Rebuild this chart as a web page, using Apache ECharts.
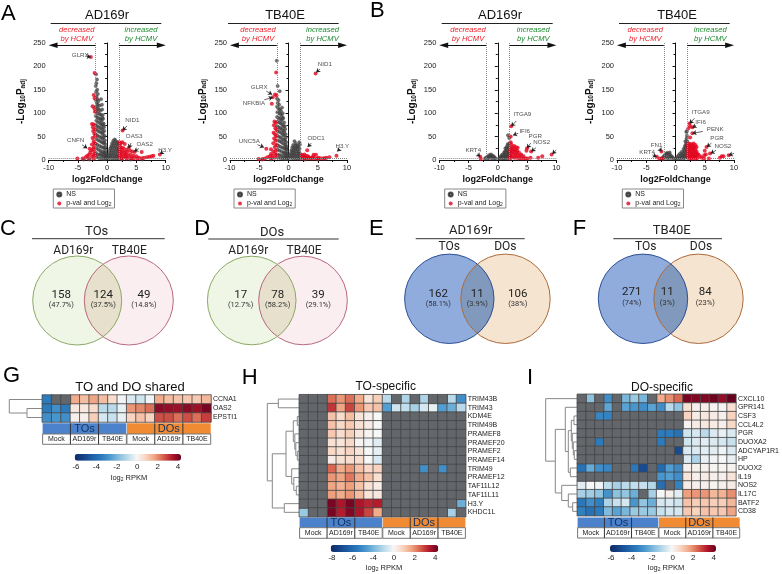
<!DOCTYPE html>
<html>
<head>
<meta charset="utf-8">
<title>HCMV volcano, venn and heatmap panels</title>
<style>
  html, body { margin: 0; padding: 0; background: #fff; }
  #chart { width: 782px; height: 574px; }
</style>
<script src="https://cdn.jsdelivr.net/npm/echarts@6/dist/echarts.min.js"></script>
</head>
<body>
<div id="chart"></div>
<script>
// ---- volcano points ----
var a1Gray = [[-1.9,183],[-1.75,172],[-1.85,164],[-1.95,158],[-1.7,150],[-1.9,146],[-1.6,141],[-1.85,136],[-1.7,131],[-1.95,128],[-1.5,126],[-1.8,122],[-1.6,118],[-1.35,116],[-1.95,114],[-1.7,110],[-1.45,108],[-1.2,105],[-1.9,104],[-1.6,100],[-1.3,98],[-1.05,96],[-1.95,94],[-1.7,91],[-1.4,89],[-1.15,87],[-.95,84],[-1.85,84],[-1.55,81],[-1.25,79],[-1,76],[-1.95,75],[-1.7,72],[-1.4,70],[-1.1,68],[-.85,66],[-1.85,65],[-1.55,62],[-1.25,60],[-.95,58],[-.75,55],[-1.95,55],[-1.65,52],[-1.35,50],[-1.05,48],[-.8,46],[-1.85,45],[-1.5,42],[-1.2,40],[-.9,38],[-.65,36],[-1.95,35],[-1.65,32],[-1.3,30],[-1,28],[-.7,27],[-.5,25],[-1.85,25],[-1.5,22],[-1.15,20],[-.8,18],[-.5,16],[-1.95,15],[-1.6,12],[-1.25,11],[-.9,9],[-.55,8],[-.3,7],[-1.8,6],[-1.4,4],[-1,3],[-.6,2],[-.3,2],[-1.05,130],[-.9,118],[-.85,108],[-.75,96],[-.7,88],[-.6,78],[-.55,70],[-.7,74],[-.85,90],[-.5,62],[-.45,52],[-.6,48],[-.4,42],[-.35,34],[-.3,28],[-.55,38],[-.3,20],[-.25,14],[-.2,10],[-.1,6],[-.1,3],[-.35,12],[-.7,12],[-1.1,14],[-.75,60],[-.8,76],[1.3,44],[1.05,41],[1.5,40],[1.8,38],[.85,36],[1.2,36],[1.6,35],[1.95,33],[.7,30],[1.05,31],[1.4,30],[1.75,29],[.55,25],[.9,26],[1.25,25],[1.6,24],[1.95,23],[.45,20],[.8,20],[1.15,19],[1.5,19],[1.85,18],[.35,14],[.7,14],[1.05,14],[1.4,13],[1.75,13],[.3,9],[.6,9],[.95,8],[1.3,8],[1.65,8],[1.95,8],[.25,4],[.55,4],[.9,3],[1.25,3],[1.6,3],[1.9,3],[-4,1],[-3,1],[2.5,1],[4,1],[6,1]]
var a1Red = [[-2.8,220],[-2.15,186],[-2.3,139],[-2.15,132],[-2.5,115],[-2.2,110],[-2.1,103],[-2.6,77],[-2.3,76],[-2.45,70],[-2.15,66],[-2.4,62],[-2.2,56],[-2.1,50],[-2.5,47],[-2.3,40],[-2.15,36],[-2.6,33],[-2.25,28],[-2.4,24],[-3,24],[-2.7,21],[-2.2,18],[-2.9,16],[-2.4,12],[-3.1,11],[-2.1,10],[-3.4,9],[-2.6,7],[-3.7,6],[-4.2,3],[-5.1,3],[-3.2,3],[-2.3,3],[2.63,63],[2.1,38],[2.3,36],[2.2,30],[2.6,38],[3,34],[2.2,24],[2.5,26],[2.8,25],[3.3,22],[3.7,26],[2.1,18],[2.4,17],[2.7,19],[3,16],[3.4,17],[3.9,20],[4.3,18],[4.7,17],[5.9,17],[2.2,11],[2.5,12],[2.9,10],[3.2,12],[3.6,10],[4,11],[4.5,9],[5,8],[2.1,6],[2.6,5],[3.1,6],[3.5,5],[4.1,5],[4.6,4],[5.4,5],[5.9,4],[6.3,5],[6.8,6],[7.2,7],[7.6,8],[7.9,9],[9,12],[2.4,3],[3.3,3],[4.2,3],[5.2,3]]
var a2Gray = [[-2,212],[-1.85,158],[-1.5,147],[-1.95,131],[-1.7,128],[-1.85,122],[-1.6,118],[-1.95,114],[-1.75,110],[-1.5,108],[-1.3,105],[-1.9,102],[-1.6,100],[-1.35,98],[-1.15,94],[-1.95,92],[-1.7,90],[-1.45,88],[-1.2,85],[-1.9,82],[-1.6,80],[-1.3,78],[-1.05,75],[-1.95,72],[-1.7,70],[-1.4,68],[-1.15,66],[-.9,63],[-1.85,62],[-1.55,60],[-1.25,58],[-1,55],[-.8,52],[-1.95,52],[-1.65,50],[-1.35,48],[-1.05,45],[-.75,43],[-1.85,42],[-1.5,40],[-1.2,38],[-.9,35],[-.6,33],[-1.95,32],[-1.65,30],[-1.3,28],[-1,26],[-.7,25],[-.45,22],[-1.85,22],[-1.5,20],[-1.15,18],[-.8,16],[-.45,14],[-1.95,12],[-1.6,11],[-1.25,10],[-.9,8],[-.55,7],[-.25,6],[-1.8,5],[-1.4,4],[-1,3],[-.6,2],[-.2,2],[-1.1,112],[-1,100],[-.9,90],[-.75,80],[-.65,72],[-.55,66],[-.7,60],[-.5,55],[-.45,48],[-.6,42],[-.4,38],[-.35,30],[-.3,24],[-.55,28],[-.25,18],[-.2,12],[-.15,8],[-.1,4],[-.35,10],[-.85,72],[-1,88],[-.7,14],[1.85,38],[1.03,40],[1.25,35],[1.5,31],[.8,32],[1.95,33],[1.1,30],[1.4,27],[1.7,29],[.65,27],[.95,25],[1.25,24],[1.55,23],[1.9,24],[.5,21],[.8,20],[1.1,19],[1.45,18],[1.8,18],[.4,15],[.7,15],[1,14],[1.35,13],[1.7,13],[1.95,13],[.3,10],[.6,10],[.9,9],[1.2,8],[1.55,8],[1.9,8],[.25,5],[.55,4],[.85,4],[1.2,3],[1.55,3],[1.9,3],[-4.5,1],[-3,1],[2.8,1],[5,1]]
var a2Red = [[-2.1,187],[-2.3,140],[-2.05,138],[-2.7,134],[-2.85,120],[-2.4,82],[-2.2,79],[-2.5,74],[-2.25,68],[-2.05,64],[-2.55,58],[-2.3,55],[-2.1,50],[-2.45,46],[-2.2,41],[-2.6,36],[-2.05,32],[-2.35,28],[-3.8,24],[-3,23],[-2.15,21],[-2.6,18],[-2.3,14],[-3,13],[-2.05,10],[-2.7,9],[-3.2,8],[-3.6,6],[-2.35,5],[-2.9,4],[-4,3],[-5.1,2],[-4.4,2],[4.63,185],[3.2,21],[2.1,12],[2.4,10],[2.7,12],[3,9],[3.3,8],[2.2,7],[2.6,6],[3,5],[3.5,6],[4.3,11],[4.7,11],[4.2,7],[3.9,5],[4.5,4],[5.1,5],[5.5,4],[6,4],[6.5,5],[7,6],[5,3],[8.2,9],[2.1,3],[2.7,3],[3.4,3],[4,3],[6.2,3]]
var b1Gray = [[-2.2,3],[-2,5],[-1.8,7],[-1.6,5],[-1.5,10],[-1.3,8],[-1.2,12],[-1,10],[-.9,6],[-.7,8],[-.5,5],[-.4,3],[-1.7,3],[-1.2,4],[-.8,3],[.2,3],[.4,6],[.5,3],[.6,9],[.8,6],[.8,12],[1,3],[1,9],[1.1,16],[1.2,6],[1.3,12],[1.4,20],[1.4,3],[1.5,9],[1.5,26],[1.6,16],[1.7,6],[1.7,34],[1.8,22],[1.8,12],[1.9,3],[1.9,29],[2,36],[2,18],[2,9],[1.75,53],[1.95,47],[1.6,30],[1.3,25],[1.2,18],[1.6,22],[1.9,14],[1.7,12],[1.4,15],[.9,4],[1.5,5]]
var b1Red = [[2.3,72],[2.2,50],[2.2,38],[2.3,33],[2.5,28],[2.8,30],[3.1,27],[3.4,26],[2.2,25],[2.4,22],[2.7,23],[3,21],[3.3,20],[2.1,19],[2.5,17],[2.8,16],[3.2,15],[3.6,16],[4,12],[2.2,13],[2.6,11],[3,10],[3.4,10],[3.8,9],[2.1,8],[2.4,6],[2.8,5],[3.2,5],[3.6,4],[4,4],[4.4,8],[4.8,3],[5,25],[4.9,20],[5.7,18],[5.6,5],[4.4,4],[6.9,5],[7.6,8],[9.2,12],[-3,7],[-2.9,2],[2.1,3],[5.1,3]]
var b2Gray = [[-2.5,3],[-2.2,5],[-2,8],[-1.8,11],[-1.6,14],[-1.4,15],[-1.2,13],[-1,16],[-.9,11],[-.7,8],[-.5,6],[-.3,3],[-1.9,4],[-1.5,7],[-1.1,7],[-.8,4],[-1.3,3],[-2.1,2],[.1,3],[.3,6],[.5,3],[.5,10],[.7,6],[.8,14],[.9,3],[1,10],[1.1,18],[1.2,6],[1.3,13],[1.4,24],[1.4,3],[1.5,9],[1.6,30],[1.6,17],[1.7,5],[1.8,35],[1.8,23],[1.9,12],[1.9,46],[2,40],[2,28],[2,18],[2,6],[1.7,40],[1.85,60],[1.95,62],[1.5,20],[1.2,10],[1.9,32],[1.7,28],[1.95,52],[1.6,12]]
var b2Red = [[2.4,78],[2.9,70],[2.5,72],[2.2,68],[2.9,57],[2.5,48],[2.2,35],[2.5,34],[2.8,33],[3.1,35],[3.4,32],[2.1,30],[2.4,29],[2.7,28],[3,29],[3.3,27],[3.6,28],[2.2,25],[2.5,24],[2.8,23],[3.1,24],[3.4,22],[2.1,20],[2.4,19],[2.7,18],[3,19],[3.3,17],[3.6,18],[2.2,15],[2.5,14],[2.8,13],[3.1,14],[3.4,12],[3.7,13],[2.1,10],[2.4,9],[2.7,8],[3,9],[3.3,7],[3.6,8],[2.2,5],[2.5,4],[2.8,3],[3.1,5],[3.4,3],[3.7,4],[3.9,12],[4.2,8],[4.5,5],[4.9,3],[5.3,28],[5,20],[4.9,10],[5.2,12],[5.9,14],[5.7,3],[7.6,5],[7.9,8],[8.2,8],[9.1,10],[-2.4,18],[-3.2,7],[-2.8,3],[-2.2,3]]

// gene callouts: name and the point its arrow ends on, then where the name sits
var a1Genes = ['GLRX', 'CNFN', 'NID1', 'OAS3', 'OAS2', 'H3.Y']
var a1Marked = [[-2.8,220],[-3.4,25],[2.63,63],[3.66,25],[4.63,18],[9,13]]
var a1TextAt = [[-4.6,224],[-5.4,42],[4.3,85],[4.6,50],[6.4,33],[9.9,20]]
var a2Genes = ['NID1', 'GLRX', 'NFKBIA', 'UNC5A', 'ODC1', 'H3.Y']
var a2Marked = [[4.74,187],[-2.8,140],[-2.7,134],[-4.2,27],[3.26,28],[8.34,18]]
var a2TextAt = [[6.2,204],[-5,156],[-5.9,122],[-6.7,40],[4.7,46],[9.2,30]]
var b1Genes = ['ITGA9', 'IFI6', 'PGR', 'NOS2', 'CSF3', 'KRT4']
var b1Marked = [[2.3,72],[2.6,53],[5,25],[5.75,18],[9.3,13],[-3,7]]
var b1TextAt = [[4.2,97],[4.6,62],[6.4,50],[7.5,37],[10.8,31],[-4.2,21]]
var b2Genes = ['ITGA9', 'IFI6', 'PENK', 'PGR', 'NOS2', 'CSF3', 'FN1', 'KRT4']
var b2Marked = [[2.4,78],[2.9,69],[2.9,57],[5.35,28],[6,14],[9.1,10],[-2.35,18],[-3.2,7]]
var b2TextAt = [[4.3,103],[4.3,80],[6.8,66],[7.1,46],[8.1,29],[11.1,19],[-3.25,32],[-4.85,16]]

// ---- venn counts ----
var vennCounts = {
  C: ['158', '124', '49'],
  D: ['17', '78', '39'],
  E: ['162', '11', '106'],
  F: ['271', '11', '84']
}
var vennShares = {
  C: ['(47.7%)', '(37.5%)', '(14.8%)'],
  D: ['(12.7%)', '(58.2%)', '(29.1%)'],
  E: ['(58.1%)', '(3.9%)', '(38%)'],
  F: ['(74%)', '(3%)', '(23%)']
}

// ---- heatmaps, N = no value (grey cell) ----
var N = null
var gRows = ['CCNA1', 'OAS2', 'EPSTI1']
var gValues = [
  [-3.5,N,N,1.5,1.2,1.6,1.2,.6,-.2,-.5,-.7,-.2,1.5,1.2,1.1,1,1,1.3],
  [-3.5,-3,-3.5,.3,.3,.6,-1,-1,-.3,1.8,2,2.3,3.8,3.7,3.6,3.8,3.6,4],
  [-3,-2.8,-3,.1,.1,.9,-.6,-.8,-.3,.8,1.1,.8,2.7,2.7,2.3,2.7,2.3,2.9]
]
var hRows = ['TRIM43B', 'TRIM43', 'KDM4E', 'TRIM49B', 'PRAMEF8', 'PRAMEF20', 'PRAMEF2', 'PRAMEF14', 'TRIM49', 'PRAMEF12', 'TAF11L12', 'TAF11L11', 'H3.Y', 'KHDC1L']
var hValues = [
  [N,N,N,2.3,1.8,2.3,1.5,.4,.9,-1,N,-1.2,N,-1.2,N,N,-1,-3],
  [N,N,N,3,1.6,2.8,1.8,1,1.1,-2.6,-.7,-.9,-1.3,-.6,-.3,-2.6,-2.2,-1],
  [N,N,N,1.1,.6,1.2,.4,.1,-.1,N,N,N,N,N,N,N,N,N],
  [N,N,N,1.1,.7,1,.5,.2,-.1,N,N,N,N,N,N,N,N,N],
  [N,N,N,1,.6,.9,.3,0,-.1,N,N,N,N,N,N,N,N,N],
  [N,N,N,.5,.4,.7,0,-.2,-.4,N,N,N,N,N,N,N,N,N],
  [N,N,N,.7,.5,.8,.4,-.1,-.3,N,N,N,N,N,N,N,N,N],
  [N,N,N,.2,.5,.6,.6,-.1,-.5,N,N,N,N,N,N,N,N,N],
  [N,N,N,2.4,1.5,1.8,1.1,.7,.8,N,N,N,N,-3,N,-3,N,N],
  [N,N,N,1.8,1.6,2.2,1.5,1.1,.5,N,N,N,N,N,N,N,N,N],
  [N,N,N,1.6,1.4,1.7,1.1,.5,.2,N,N,N,N,N,N,N,N,N],
  [N,N,N,1.7,1.5,1.8,1.2,.4,.3,N,N,N,N,N,N,N,N,N],
  [N,N,N,4,3.4,4,3.4,3.2,3.3,N,N,N,N,N,N,N,N,-2.2],
  [-1.5,N,N,4,3.3,3.9,3.4,2.8,1.5,N,N,N,N,N,N,N,-1.3,N]
]
var iRows = ['CXCL10', 'GPR141', 'CSF3', 'CCL4L2', 'PGR', 'DUOXA2', 'ADCYAP1R1', 'HP', 'DUOX2', 'IL19', 'NOS2', 'IL17C', 'BATF2', 'CD38']
var iValues = [
  [N,-1.7,N,-3,N,-2,-1.5,-2,N,1.5,1.9,2.4,4,3.9,3.9,4.1,3.7,4.2],
  [N,N,N,-2.4,N,-2.5,-2.8,-3,-2.5,-3,-1,-1.6,.5,.1,.1,0,0,.5],
  [N,N,-3.2,-3.3,N,N,N,N,N,N,N,N,.8,.2,.3,.2,.1,.8],
  [N,N,N,N,N,N,N,N,N,N,N,N,0,.2,.3,.2,.1,.7],
  [N,N,N,N,N,N,N,N,N,-3.5,-3.5,-3.8,-.7,-.6,-1,-.5,-.3,-.5],
  [N,N,-3.5,N,N,N,N,N,N,-3.5,N,N,-.7,-.5,-.4,-.5,-.6,-.8],
  [N,N,N,N,N,N,N,N,N,N,N,-5,-.5,-.5,-.4,-.4,-.2,-.5],
  [N,N,N,N,N,N,N,N,N,N,N,N,-.5,-1.2,-.3,-.2,-.1,-.3],
  [-3.8,-2.3,-3,-3.2,N,N,-3.6,-5,N,-4,-2.6,-3.1,.1,.05,.05,0,0,0],
  [N,N,N,N,N,N,N,N,N,-2.8,-2.6,-3,.4,.1,.2,.1,.1,.4],
  [-.4,-.1,-.2,-.9,-1.3,-1,-.9,-.8,-1.1,-3.9,N,-3.3,.2,.1,.1,0,.1,.2],
  [-1.3,-1.4,-1.6,-2.9,-1.7,-1.6,-2.2,N,-1.3,-.1,.1,-.4,1.7,1.8,1.8,1.3,1.4,1.9],
  [-3.6,-3,-3.4,-1.2,-.8,-.6,-2.8,-1.6,-2.2,-.6,-.5,-.7,1.1,.9,1,.9,.9,1.3],
  [-3.4,-3.8,-3.5,-1.9,-2.5,-2,-1.5,-1.5,-1.5,-.8,-.6,-.6,1,.8,1.1,1,1,1.6]
]
// dendrograms: [merge depth in px, child, child], a number is a row index
var gTree = [33, 0, [15.3, 1, 2]]
var hTree = [32, [21, 0, 1], [27, [13.3, [6, [2, 2, 3], [4.5, 4, [3.5, 5, [2, 6, 7]]]], [7.6, 8, [5.5, 9, [3, 10, 11]]]], [15, 12, 13]]]
var iTree = [31.6, 0, [22, [12, 1, [9, [6, [3.3, 2, 3], [5, 4, [4, 5, [3, 6, 7]]]], [7, 8, 9]]], [15.6, 10, [9, 11, [4.6, 12, 13]]]]]

var gTicks = ['-6', '-4', '-2', '0', '2', '4']
var hTicks = ['-8', '-6', '-4', '0', '2', '4']
var iTicks = ['-6', '-4', '-2', '0', '2', '4']
var groupNames = ['Mock', 'AD169r', 'TB40E']

// ---- shared styles ----
var ARIAL = '"Liberation Sans", Arial, sans-serif'
var ROBOTO = 'Roboto, "Liberation Sans", sans-serif'
var RAMP = ['#0e2b63', '#144489', '#1f60a8', '#2b7abb', '#4f9bd0', '#86bedd', '#bddcec', '#f7f7f7', '#f8d5c2', '#f0a582', '#d6604d', '#b2182b', '#67001f']
var NA_COLOR = '#63666a'

var myChart = echarts.init(document.getElementById('chart'))
var grids = [], xAxes = [], yAxes = [], series = [], legends = [], maps = [], gfx = []

function txt(x, y, text, font, fill, align) {
  gfx.push({
    type: 'text', silent: true,
    style: { x: x, y: y, text: text, font: font, fill: fill || '#111', textAlign: align || 'center', textVerticalAlign: 'middle' }
  })
}
function seg(x1, y1, x2, y2, color, width) {
  gfx.push({
    type: 'line', silent: true,
    shape: { x1: x1, y1: y1, x2: x2, y2: y2 },
    style: { stroke: color || '#444', lineWidth: width || 1 }
  })
}

// ---- volcano panels ----
function volcano(left, title, titleX, ruleX1, ruleX2, decX, incX, legendLeft, gray, red, genes, marked, textAt) {
  var idx = grids.length
  grids.push({ left: left, top: 43, width: 117, height: 117 })
  xAxes.push({
    gridIndex: idx, type: 'value', min: -10, max: 10, interval: 5,
    name: 'log2FoldChange', nameLocation: 'middle', nameGap: 15.5,
    nameTextStyle: { fontFamily: ARIAL, fontSize: 9, fontWeight: 'bold', color: '#111' },
    axisLine: { lineStyle: { color: '#111', width: 1 } },
    axisTick: { length: 3, lineStyle: { color: '#111' } },
    minorTick: { show: true, splitNumber: 2, length: 2, lineStyle: { color: '#111' } },
    axisLabel: { fontFamily: ARIAL, fontSize: 7.5, color: '#222', margin: 3.5 },
    splitLine: { show: false }, minorSplitLine: { show: false }
  })
  yAxes.push({
    gridIndex: idx, type: 'value', min: 0, max: 250, interval: 50,
    name: '{a|-Log}{s|10}{a|P}{s|adj}', nameLocation: 'middle', nameGap: 22,
    nameTextStyle: {
      rich: {
        a: { fontFamily: ARIAL, fontSize: 10, fontWeight: 'bold', color: '#111' },
        s: { fontFamily: ARIAL, fontSize: 6.5, fontWeight: 'bold', color: '#111', verticalAlign: 'bottom', lineHeight: 8 }
      }
    },
    axisLine: { show: true, lineStyle: { color: '#111', width: 1 } },
    axisTick: { show: true, length: 3, lineStyle: { color: '#111' } },
    minorTick: { show: true, splitNumber: 2, length: 2, lineStyle: { color: '#111' } },
    axisLabel: { fontFamily: ARIAL, fontSize: 7.5, color: '#222', margin: 3 },
    splitLine: { show: false }, minorSplitLine: { show: false }
  })

  var arrowStyle = { type: 'solid', color: '#111', width: 1 }
  series.push({
    name: 'NS', type: 'scatter', xAxisIndex: idx, yAxisIndex: idx, data: gray,
    symbolSize: 3.4,
    itemStyle: { color: '#4a4a4a', borderColor: '#2a2a2a', borderWidth: .3 },
    markLine: {
      silent: true, animation: false, symbol: 'none', label: { show: false },
      lineStyle: { type: 'dotted', color: '#888', width: 1 },
      data: [
        { xAxis: -2 }, { xAxis: 2 }, { yAxis: 3 },
        [{ coord: [-9.25, 245], symbol: 'triangle', symbolSize: [5.5, 9], lineStyle: arrowStyle }, { coord: [-2, 245], symbol: 'none' }],
        [{ coord: [2, 245], symbol: 'none', lineStyle: arrowStyle }, { coord: [9.25, 245], symbol: 'triangle', symbolSize: [5.5, 9] }]
      ]
    }
  })
  series.push({
    name: 'p-val and Log2', type: 'scatter', xAxisIndex: idx, yAxisIndex: idx, data: red,
    symbolSize: 4,
    itemStyle: { color: '#e2061f' }
  })

  // gene names with a short arrow toward the marked point
  series.push({
    type: 'scatter', xAxisIndex: idx, yAxisIndex: idx,
    data: genes.map(function (g, i) { return [textAt[i][0], textAt[i][1], g] }),
    symbolSize: 1, itemStyle: { color: 'transparent' }, silent: true,
    label: {
      show: true, position: 'inside', fontFamily: ARIAL, fontSize: 6.2, color: '#222',
      formatter: function (p) { return p.value[2] }
    },
    markLine: {
      silent: true, animation: false, label: { show: false },
      lineStyle: { type: 'solid', color: '#222', width: .7 },
      data: marked.map(function (m, i) {
        var from = [m[0] + .45 * (textAt[i][0] - m[0]), m[1] + .45 * (textAt[i][1] - m[1])]
        return [{ coord: from, symbol: 'none' }, { coord: m, symbol: 'arrow', symbolSize: 4 }]
      })
    }
  })

  legends.push({
    left: legendLeft, top: 189, orient: 'vertical',
    data: [{ name: 'NS', icon: 'circle' }, { name: 'p-val and Log2', icon: 'circle' }],
    borderColor: '#888', borderWidth: 1, padding: [2, 3, 1, 3], itemWidth: 4, itemHeight: 4, itemGap: 2,
    textStyle: {
      fontFamily: ARIAL, fontSize: 7, color: '#222',
      rich: { s: { fontFamily: ARIAL, fontSize: 5, color: '#222', verticalAlign: 'bottom' }, n: { fontFamily: ARIAL, fontSize: 7, color: '#222' } }
    },
    formatter: function (name) {
      return name === 'NS' ? '{n|NS}' : '{n|p-val and Log}{s|2}'
    }
  })

  txt(titleX, 15.5, title, '13px ' + ARIAL)
  seg(ruleX1, 23.5, ruleX2, 23.5, '#222')
  txt(decX, 30, 'decreased', 'italic 7.6px ' + ARIAL, '#ee1c25')
  txt(decX, 38.5, 'by HCMV', 'italic 7.6px ' + ARIAL, '#ee1c25')
  txt(incX, 30, 'increased', 'italic 7.6px ' + ARIAL, '#1b8a2e')
  txt(incX, 38.5, 'by HCMV', 'italic 7.6px ' + ARIAL, '#1b8a2e')
}

volcano(48.7, 'AD169r', 107, 50.7, 161.3, 76.7, 141, 53.3, a1Gray, a1Red, a1Genes, a1Marked, a1TextAt)
volcano(230, 'TB40E', 285, 228, 338.7, 258, 322.5, 234, a2Gray, a2Red, a2Genes, a2Marked, a2TextAt)
volcano(439.3, 'AD169r', 500, 441.7, 552.7, 468, 533.3, 444.7, b1Gray, b1Red, b1Genes, b1Marked, b1TextAt)
volcano(617, 'TB40E', 677, 619, 729.7, 645.3, 710.3, 622.3, b2Gray, b2Red, b2Genes, b2Marked, b2TextAt)

// ---- venn panels ----
function lensPoints(cx1, cx2, cy, r) {
  var half = (cx2 - cx1) / 2, a = Math.acos(half / r), pts = [], t
  for (t = -a; t <= a; t += a / 30) pts.push([cx1 + r * Math.cos(t), cy + r * Math.sin(t)])
  for (t = a; t >= -a; t -= a / 30) pts.push([cx2 - r * Math.cos(t), cy + r * Math.sin(t)])
  return pts
}
function venn(opt) {
  var r = opt.r
  gfx.push({ type: 'circle', silent: true, shape: { cx: opt.cx1, cy: opt.cy, r: r }, style: { fill: opt.fill1 } })
  gfx.push({ type: 'circle', silent: true, shape: { cx: opt.cx2, cy: opt.cy, r: r }, style: { fill: opt.fill2 } })
  gfx.push({ type: 'polygon', silent: true, shape: { points: lensPoints(opt.cx1, opt.cx2, opt.cy, r) }, style: { fill: opt.fillMid } })
  gfx.push({ type: 'circle', silent: true, shape: { cx: opt.cx2, cy: opt.cy, r: r }, style: { fill: 'none', stroke: opt.stroke2, lineWidth: 1 } })
  gfx.push({ type: 'circle', silent: true, shape: { cx: opt.cx1, cy: opt.cy, r: r }, style: { fill: 'none', stroke: opt.stroke1, lineWidth: 1 } })
  txt(opt.titleX, opt.titleY, opt.title, '13px ' + ROBOTO, '#222')
  seg(opt.ruleX1, opt.ruleY, opt.ruleX2, opt.ruleY, '#333')
  txt(opt.setX1, opt.setY, opt.set1, '12px ' + ROBOTO, '#222')
  txt(opt.setX2, opt.setY, opt.set2, '12px ' + ROBOTO, '#222')
  opt.counts.forEach(function (c, i) {
    txt(opt.numX[i], opt.numY, c, '11.5px ' + ROBOTO, '#222')
    txt(opt.numX[i], opt.numY + 10.5, opt.shares[i], '7.5px ' + ROBOTO, '#333')
  })
}
var greenPink = { fill1: '#f0f6e6', fill2: '#fbeef1', fillMid: '#e6e0cc', stroke1: '#8ba865', stroke2: '#b8677f' }
var bluePeach = { fill1: '#8facdc', fill2: '#f5e4cf', fillMid: '#8199bc', stroke1: '#2c4f96', stroke2: '#ab6a3c' }
function withColors(colors, o) { return Object.assign({}, colors, o) }

venn(withColors(greenPink, {
  r: 44.5, cx1: 77.2, cx2: 128.8, cy: 300.5, title: 'TOs', titleX: 96.7, titleY: 231.5, ruleX1: 32, ruleX2: 164.7, ruleY: 238.7,
  set1: 'AD169r', set2: 'TB40E', setX1: 73.3, setX2: 129.3, setY: 251, numX: [61.3, 103.3, 144], numY: 295, counts: vennCounts.C, shares: vennShares.C
}))
venn(withColors(greenPink, {
  r: 44.3, cx1: 251.7, cx2: 303, cy: 300.5, title: 'DOs', titleX: 272, titleY: 232.5, ruleX1: 208.3, ruleX2: 338.7, ruleY: 239,
  set1: 'AD169r', set2: 'TB40E', setX1: 248.3, setX2: 304, setY: 251, numX: [240.7, 277.7, 318.3], numY: 295, counts: vennCounts.D, shares: vennShares.D
}))
venn(withColors(bluePeach, {
  r: 44.7, cx1: 449.3, cx2: 505.5, cy: 298.8, title: 'AD169r', titleX: 470.7, titleY: 231, ruleX1: 415.7, ruleX2: 524.7, ruleY: 238.7,
  set1: 'TOs', set2: 'DOs', setX1: 449.3, setX2: 505.3, setY: 247.3, numX: [438.3, 477.3, 517.7], numY: 294, counts: vennCounts.E, shares: vennShares.E
}))
venn(withColors(bluePeach, {
  r: 44.7, cx1: 643, cx2: 698.5, cy: 298.8, title: 'TB40E', titleX: 671.7, titleY: 231, ruleX1: 613.3, ruleX2: 722, ruleY: 238.7,
  set1: 'TOs', set2: 'DOs', setX1: 645.7, setX2: 701, setY: 247.3, numX: [631.7, 667.3, 705.3], numY: 292.3, counts: vennCounts.F, shares: vennShares.F
}))

// ---- heatmap panels ----
function drawTree(node, left, top, rowH) {
  if (typeof node === 'number') return { x: left, y: top + (node + .5) * rowH }
  var a = drawTree(node[1], left, top, rowH)
  var b = drawTree(node[2], left, top, rowH)
  var x = left - node[0]
  gfx.push({
    type: 'polyline', silent: true,
    shape: { points: [[a.x, a.y], [x, a.y], [x, b.y], [b.x, b.y]] },
    style: { stroke: '#888', lineWidth: 1, fill: 'none' }
  })
  return { x: x, y: (a.y + b.y) / 2 }
}

function heatPanel(o) {
  var idx = grids.length
  var cols = o.values[0].map(function (v, i) { return String(i) })
  grids.push({ left: o.left, top: o.top, width: o.right - o.left, height: o.bottom - o.top })
  xAxes.push({ gridIndex: idx, type: 'category', data: cols, axisLine: { show: false }, axisTick: { show: false }, axisLabel: { show: false }, splitLine: { show: false } })
  yAxes.push({
    gridIndex: idx, type: 'category', data: o.rows, inverse: true, position: 'right',
    axisLine: { show: false }, axisTick: { show: false }, splitLine: { show: false },
    axisLabel: { fontFamily: ARIAL, fontSize: 7, color: '#222', margin: 2, interval: 0 }
  })
  var filled = [], empty = []
  o.values.forEach(function (row, r) {
    row.forEach(function (v, c) {
      if (v === N) empty.push([c, r, 1])
      else filled.push([c, r, v])
    })
  })
  var cellBorder = { borderColor: '#464646', borderWidth: .8 }
  var valueSeries = series.length
  series.push({ type: 'heatmap', xAxisIndex: idx, yAxisIndex: idx, data: filled, itemStyle: cellBorder, silent: true, progressive: 0 })
  series.push({ type: 'heatmap', xAxisIndex: idx, yAxisIndex: idx, data: empty, itemStyle: Object.assign({ color: NA_COLOR }, cellBorder), silent: true, progressive: 0 })

  // colour bar plus an axis lined up under it for the tick labels
  maps.push({
    type: 'continuous', seriesIndex: valueSeries, min: -6.1, max: 4.2, calculable: false, hoverLink: false,
    orient: 'horizontal', left: o.barLeft, top: o.barTop, itemWidth: o.barH, itemHeight: o.barW, padding: 0,
    text: null, showLabel: false, inRange: { color: RAMP }
  })
  var tickIdx = grids.length
  grids.push({ left: o.tickLeft, top: o.barTop + o.barH, width: o.tickRight - o.tickLeft, height: 1 })
  xAxes.push({
    gridIndex: tickIdx, type: 'category', data: o.ticks, boundaryGap: false,
    axisLine: { show: false }, axisTick: { show: false }, splitLine: { show: false },
    axisLabel: { fontFamily: ARIAL, fontSize: 8, color: '#222', margin: 1, interval: 0 }
  })
  yAxes.push({ gridIndex: tickIdx, type: 'value', show: false, min: 0, max: 1 })

  txt(o.titleX, o.titleY, o.title, o.titleFont + 'px ' + ARIAL)
  var rowH = (o.bottom - o.top) / o.rows.length
  drawTree(o.tree, o.left, o.top, rowH)

  // annotation strips under the cells: TOs blue, DOs orange
  var w = (o.right - o.left) / 2
  var colW = w / 3
  ;[['TOs', '#4c81cc', o.left], ['DOs', '#f08a33', o.left + w]].forEach(function (g) {
    var x0 = g[2]
    gfx.push({ type: 'rect', silent: true, shape: { x: x0 + .3, y: o.stripTop, width: w - .6, height: o.stripMid - o.stripTop }, style: { fill: g[1] } })
    gfx.push({ type: 'rect', silent: true, shape: { x: x0 + .3, y: o.stripMid, width: w - .6, height: o.stripBottom - o.stripMid }, style: { fill: '#fff', stroke: '#777', lineWidth: 1 } })
    seg(x0 + colW, o.stripTop, x0 + colW, o.stripBottom, '#333')
    seg(x0 + 2 * colW, o.stripTop, x0 + 2 * colW, o.stripBottom, '#333')
    txt(x0 + 1.5 * colW, (o.stripTop + o.stripMid) / 2, g[0], '11px ' + ARIAL, '#12315f')
    groupNames.forEach(function (n, i) {
      txt(x0 + (i + .5) * colW, (o.stripMid + o.stripBottom) / 2, n, '7px ' + ARIAL, '#222')
    })
  })
  // log2 RPKM caption
  gfx.push({
    type: 'text', silent: true,
    style: {
      x: o.capX, y: o.capY, text: '{a|log}{s|2}{a| RPKM}', textAlign: 'center', textVerticalAlign: 'middle',
      rich: { a: { font: '7.5px ' + ARIAL, fill: '#222' }, s: { font: '5px ' + ARIAL, fill: '#222', verticalAlign: 'bottom' } }
    }
  })
}

heatPanel({
  title: 'TO and DO shared', titleX: 130, titleY: 387.5, titleFont: 13, rows: gRows, values: gValues, tree: gTree,
  left: 42.3, right: 211, top: 395, bottom: 422, stripTop: 423.3, stripMid: 434, stripBottom: 444.3,
  barLeft: 74.7, barTop: 454, barW: 106.3, barH: 6.7, ticks: gTicks, tickLeft: 76, tickRight: 178, capX: 129, capY: 478
})
heatPanel({
  title: 'TO-specific', titleX: 385.7, titleY: 386.7, titleFont: 12, rows: hRows, values: hValues, tree: hTree,
  left: 299.3, right: 465.7, top: 394.7, bottom: 516.7, stripTop: 517.5, stripMid: 527.7, stripBottom: 538.3,
  barLeft: 330.7, barTop: 545, barW: 107.6, barH: 7, ticks: hTicks, tickLeft: 332, tickRight: 435.3, capX: 384, capY: 568
})
heatPanel({
  title: 'DO-specific', titleX: 662, titleY: 387.3, titleFont: 12, rows: iRows, values: iValues, tree: iTree,
  left: 577.3, right: 740, top: 394.3, bottom: 515.7, stripTop: 517.5, stripMid: 527.7, stripBottom: 538,
  barLeft: 610, barTop: 545, barW: 106, barH: 7, ticks: iTicks, tickLeft: 611, tickRight: 713.7, capX: 666, capY: 568
})

// ---- panel letters ----
var letters = [['A', 1, 13.5], ['B', 370, 11], ['C', 0, 229], ['D', 194.3, 229], ['E', 369, 229], ['F', 572.7, 229], ['G', 3, 376], ['H', 241.7, 377.5], ['I', 527, 377.5]]
letters.forEach(function (l) { txt(l[1], l[2], l[0], '22px ' + ARIAL, '#000', 'left') })

var option = {
  animation: false,
  grid: grids,
  xAxis: xAxes,
  yAxis: yAxes,
  legend: legends,
  visualMap: maps,
  series: series,
  graphic: { elements: gfx }
}
myChart.setOption(option)
</script>
</body>
</html>
